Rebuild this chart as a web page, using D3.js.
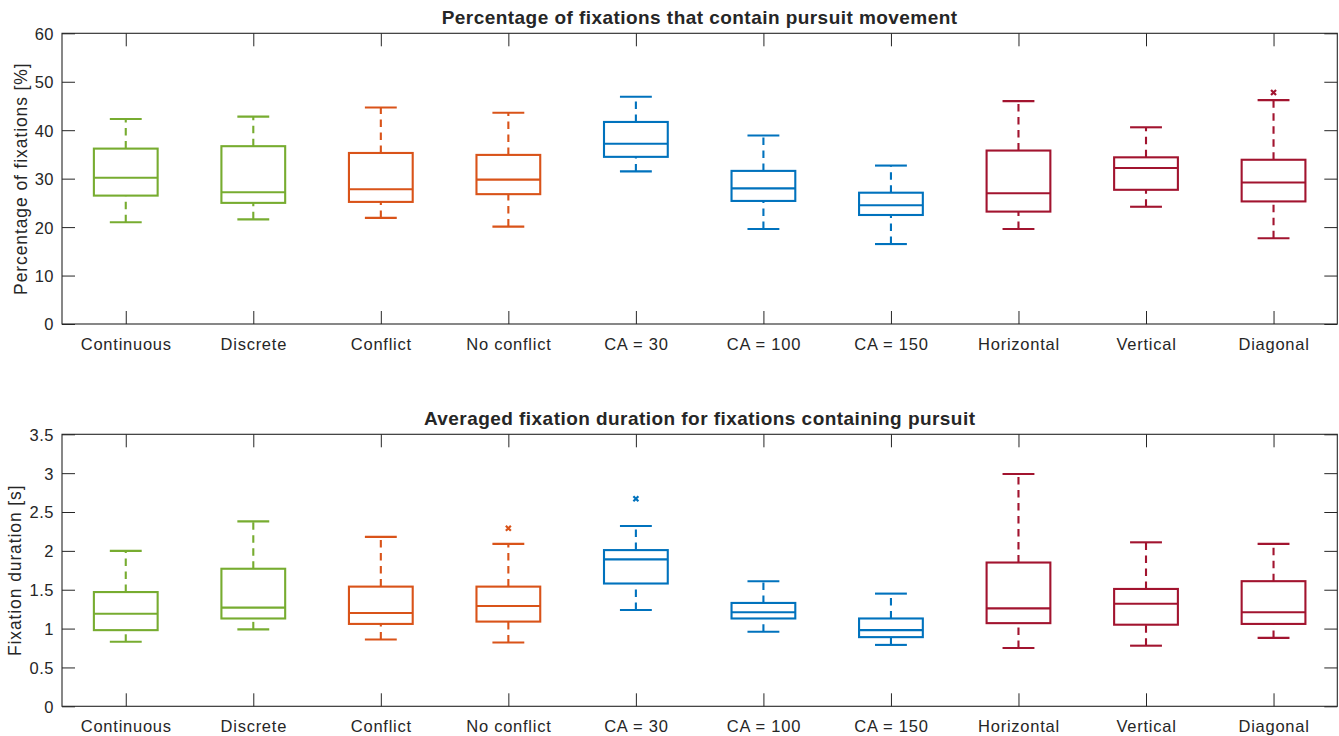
<!DOCTYPE html>
<html>
<head>
<meta charset="utf-8">
<script src="https://cdn.jsdelivr.net/npm/d3@7"></script>
<style>
  html, body { margin: 0; padding: 0; background: #fff; }
  svg { display: block; }
  text { font-family: "Liberation Sans", Arial, Helvetica, sans-serif; fill: #262626; }
</style>
</head>
<body>
<svg id="chart" width="1339" height="736"></svg>
<script>
// Conditions on the x axis
const categories = ["Continuous", "Discrete", "Conflict", "No conflict", "CA = 30",
                    "CA = 100", "CA = 150", "Horizontal", "Vertical", "Diagonal"];
// Colour group of each condition
const groups = ["mode", "mode", "conflict", "conflict", "ca", "ca", "ca", "dir", "dir", "dir"];
const groupColors = { mode: "#77AC30", conflict: "#D95319", ca: "#0072BD", dir: "#A2142F" };

// Percentage of fixations with pursuit [%]: whisker ends, quartiles, median
const pctLower  = [21.0, 21.6, 21.9, 20.1, 31.5, 19.6, 16.5, 19.6, 24.2, 17.7];
const pctQ1     = [26.5, 25.0, 25.2, 26.8, 34.5, 25.4, 22.5, 23.2, 27.7, 25.3];
const pctMedian = [30.2, 27.2, 27.8, 29.8, 37.2, 28.0, 24.5, 27.0, 32.2, 29.2];
const pctQ3     = [36.2, 36.7, 35.3, 34.9, 41.7, 31.6, 27.1, 35.8, 34.4, 33.9];
const pctUpper  = [42.3, 42.8, 44.7, 43.6, 46.9, 38.9, 32.7, 46.0, 40.6, 46.2];
const pctOutliers = [[], [], [], [], [], [], [], [], [], [47.8]];
const pctTicks = [0, 10, 20, 30, 40, 50, 60];

// Averaged fixation duration [s]
const durLower  = [0.83, 0.99, 0.86, 0.82, 1.24, 0.96, 0.79, 0.75, 0.78, 0.88];
const durQ1     = [0.98, 1.13, 1.06, 1.09, 1.58, 1.13, 0.89, 1.07, 1.05, 1.06];
const durMedian = [1.19, 1.27, 1.20, 1.29, 1.89, 1.21, 0.98, 1.26, 1.32, 1.21];
const durQ3     = [1.47, 1.77, 1.54, 1.54, 2.01, 1.33, 1.13, 1.85, 1.51, 1.61];
const durUpper  = [2.00, 2.38, 2.18, 2.09, 2.32, 1.61, 1.45, 2.99, 2.11, 2.09];
const durOutliers = [[], [], [], [2.29], [2.67], [], [], [], [], []];
const durTicks = [0, 0.5, 1, 1.5, 2, 2.5, 3, 3.5];
const durTickLabels = ["0", "0.5", "1", "1.5", "2", "2.5", "3", "3.5"];

const svg = d3.select("#chart");
const axisColor = "#262626";
const left = 62, right = 1337.3;

function drawPanel(cfg) {
  const x = d3.scaleLinear().domain([0.5, categories.length + 0.5]).range([left, right]);
  const y = d3.scaleLinear().domain(cfg.domain).range([cfg.bottom, cfg.top]);
  const g = svg.append("g");
  const idx = categories.map((_, i) => i + 1);
  const tickLen = 13;

  // Bottom axis with category labels (ticks pointing inward)
  const xAxis = g.append("g").attr("transform", `translate(0,${cfg.bottom})`)
    .call(d3.axisBottom(x).tickValues(idx).tickFormat(i => categories[i - 1])
      .tickSizeInner(-tickLen).tickSizeOuter(0).tickPadding(0));
  xAxis.selectAll("text").attr("dy", null).attr("y", 26)
    .style("font-size", "16.5px").style("letter-spacing", "0.75px").attr("fill", axisColor);

  // Top mirrored ticks
  g.append("g").attr("transform", `translate(0,${cfg.top})`)
    .call(d3.axisTop(x).tickValues(idx).tickFormat("").tickSizeInner(-tickLen).tickSizeOuter(0));

  // Left axis
  const yAxis = g.append("g").attr("transform", `translate(${left},0)`)
    .call(d3.axisLeft(y).tickValues(cfg.ticks).tickFormat((d, i) => cfg.tickLabels[i])
      .tickSizeInner(-tickLen).tickSizeOuter(0).tickPadding(0));
  yAxis.selectAll("text").attr("x", -8).attr("dy", "0.36em")
    .style("font-size", "16.5px").style("letter-spacing", "0.5px").attr("fill", axisColor);

  // Right mirrored ticks
  g.append("g").attr("transform", `translate(${right},0)`)
    .call(d3.axisRight(y).tickValues(cfg.ticks).tickFormat("").tickSizeInner(-tickLen).tickSizeOuter(0));

  g.selectAll(".domain").remove();
  g.selectAll(".tick line").attr("stroke", axisColor).attr("stroke-width", 1);

  // Axes box
  g.append("rect").attr("x", left).attr("y", cfg.top)
    .attr("width", right - left).attr("height", cfg.bottom - cfg.top)
    .attr("fill", "none").attr("stroke", axisColor).attr("stroke-width", 1.1);

  const boxHalf = (x(1.25) - x(1));
  const capHalf = (x(1.125) - x(1));

  const items = g.selectAll(".bp").data(idx).enter().append("g")
    .attr("stroke", i => groupColors[groups[i - 1]]).attr("fill", "none").attr("stroke-width", 2.1);

  // Whiskers (dashed, drawn upward from lower value)
  items.append("line")
    .attr("x1", i => x(i)).attr("x2", i => x(i))
    .attr("y1", i => y(cfg.q3[i - 1])).attr("y2", i => y(cfg.upper[i - 1]))
    .attr("stroke-dasharray", "7.5,5.5");
  items.append("line")
    .attr("x1", i => x(i)).attr("x2", i => x(i))
    .attr("y1", i => y(cfg.lower[i - 1])).attr("y2", i => y(cfg.q1[i - 1]))
    .attr("stroke-dasharray", "7.5,5.5");

  // Whisker caps
  items.append("line")
    .attr("x1", i => x(i) - capHalf).attr("x2", i => x(i) + capHalf)
    .attr("y1", i => y(cfg.upper[i - 1])).attr("y2", i => y(cfg.upper[i - 1]));
  items.append("line")
    .attr("x1", i => x(i) - capHalf).attr("x2", i => x(i) + capHalf)
    .attr("y1", i => y(cfg.lower[i - 1])).attr("y2", i => y(cfg.lower[i - 1]));

  // Boxes
  items.append("rect")
    .attr("x", i => x(i) - boxHalf).attr("width", 2 * boxHalf)
    .attr("y", i => y(cfg.q3[i - 1]))
    .attr("height", i => y(cfg.q1[i - 1]) - y(cfg.q3[i - 1]));

  // Medians
  items.append("line")
    .attr("x1", i => x(i) - boxHalf).attr("x2", i => x(i) + boxHalf)
    .attr("y1", i => y(cfg.median[i - 1])).attr("y2", i => y(cfg.median[i - 1]));

  // Outliers as small crosses
  const outl = [];
  cfg.outliers.forEach((arr, k) => arr.forEach(v => outl.push({ i: k + 1, v })));
  const s = 2.5;
  g.selectAll(".outlier").data(outl).enter().append("path")
    .attr("d", d => {
      const cx = x(d.i), cy = y(d.v);
      return `M${cx - s},${cy - s}L${cx + s},${cy + s}M${cx - s},${cy + s}L${cx + s},${cy - s}`;
    })
    .attr("stroke", d => groupColors[groups[d.i - 1]]).attr("stroke-width", 2.2).attr("fill", "none");

  // Title
  svg.append("text").attr("x", (left + right) / 2).attr("y", cfg.top - 9)
    .attr("text-anchor", "middle").style("font-size", "19px").style("font-weight", "bold")
    .style("letter-spacing", "0.45px").attr("fill", "#000").text(cfg.title);

  // Y label
  svg.append("text")
    .attr("transform", `translate(${cfg.ylabelX},${(cfg.top + cfg.bottom) / 2}) rotate(-90)`)
    .attr("text-anchor", "middle").attr("dy", "0.35em")
    .style("font-size", "17.5px").style("letter-spacing", "0.9px").text(cfg.ylabel);
}

drawPanel({
  top: 33.3, bottom: 324, domain: [0, 60], ticks: pctTicks, tickLabels: pctTicks.map(String),
  lower: pctLower, q1: pctQ1, median: pctMedian, q3: pctQ3, upper: pctUpper, outliers: pctOutliers,
  title: "Percentage of fixations that contain pursuit movement",
  ylabel: "Percentage of fixations [%]", ylabelX: 21
});

drawPanel({
  top: 434.3, bottom: 706.3, domain: [0, 3.5], ticks: durTicks, tickLabels: durTickLabels,
  lower: durLower, q1: durQ1, median: durMedian, q3: durQ3, upper: durUpper, outliers: durOutliers,
  title: "Averaged fixation duration for fixations containing pursuit",
  ylabel: "Fixation duration [s]", ylabelX: 15
});
</script>
</body>
</html>
